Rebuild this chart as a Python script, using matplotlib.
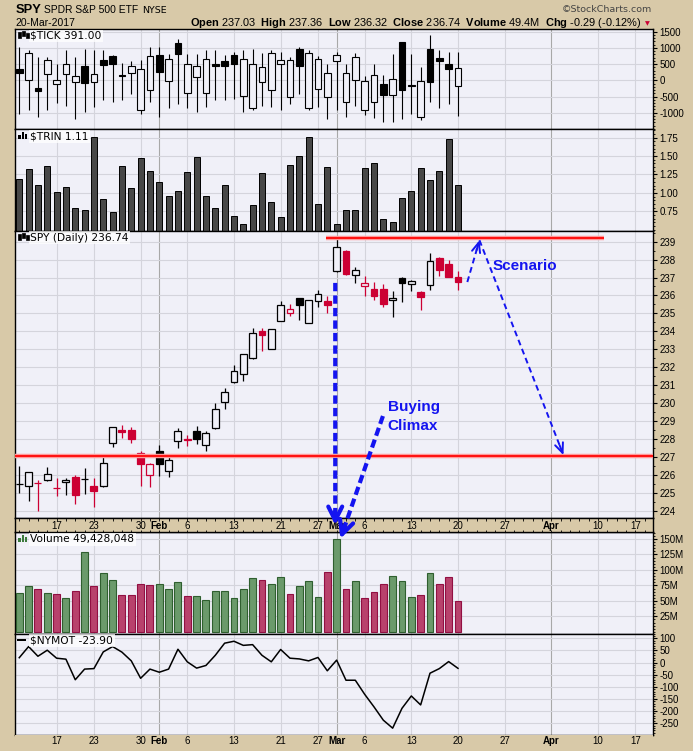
import numpy as np
import pandas as pd
import matplotlib
matplotlib.use('Agg')
import matplotlib.pyplot as plt
from matplotlib.patches import Rectangle, FancyArrowPatch
from matplotlib.transforms import IdentityTransform
from matplotlib.ticker import AutoMinorLocator

plt.rcParams['font.family'] = ['Liberation Sans', 'DejaVu Sans']
plt.rcParams['mathtext.fontset'] = 'custom'
plt.rcParams['mathtext.bf'] = 'Liberation Sans:bold'
plt.rcParams['mathtext.rm'] = 'Liberation Sans'

ANCHO, ALTO = 693, 751
FONDO = '#D8C9A8'
PANEL = '#F0F0F8'
REJILLA = '#D4D4DC'
MES = '#A8A8A8'
ROJO = '#CC0033'
AZUL = '#1414F0'

# Dias de mercado (sin festivos)
festivos = pd.to_datetime(['2017-01-16', '2017-02-20', '2017-04-14'])
fechas = pd.bdate_range('2017-01-10', '2017-04-21')
fechas = fechas[~fechas.isin(festivos)]

# SPY diario
spy_o = [225.51, 225.36, 225.54, 225.73, 225.28, 225.58, 225.86, 225.77, 225.36, 225.39,
         227.77, 228.50, 228.50, 227.22, 226.01, 227.31, 226.23, 227.87, 227.98, 228.42,
         227.64, 228.61, 230.06, 231.16, 231.62, 232.51, 234.00, 233.00, 234.56, 235.04,
         235.88, 234.46, 235.69, 235.69, 237.35, 238.46, 237.12, 236.51, 236.36, 236.36,
         235.73, 236.96, 236.66, 236.19, 236.57, 238.09, 237.75, 237.03]
spy_h = [226.47, 226.14, 225.73, 226.42, 225.82, 225.82, 226.00, 226.38, 225.82, 227.12,
         228.65, 228.76, 228.67, 227.31, 226.66, 227.64, 227.12, 228.61, 228.24, 228.70,
         228.42, 230.00, 230.84, 232.10, 232.75, 234.19, 234.19, 234.11, 235.67, 235.54,
         235.88, 235.76, 236.30, 235.95, 239.20, 238.54, 237.59, 237.07, 236.75, 236.64,
         236.27, 237.03, 236.88, 236.27, 238.37, 238.13, 237.96, 237.36]
spy_l = [224.99, 224.56, 223.96, 225.68, 224.80, 224.89, 224.37, 224.95, 224.22, 225.30,
         227.55, 228.05, 227.77, 225.36, 225.30, 225.91, 225.86, 227.49, 227.59, 227.72,
         227.35, 228.55, 229.69, 231.10, 231.21, 232.46, 232.88, 233.00, 234.56, 234.84,
         234.61, 234.46, 235.34, 235.02, 237.30, 237.16, 236.70, 235.99, 235.77, 235.36,
         234.78, 235.62, 236.23, 235.21, 236.29, 237.07, 237.01, 236.32]
spy_c = [225.51, 226.14, 225.54, 226.06, 225.28, 225.73, 224.89, 225.77, 225.12, 226.64,
         228.65, 228.40, 228.01, 226.62, 226.58, 226.62, 226.81, 228.42, 227.95, 227.98,
         228.33, 229.65, 230.60, 231.81, 232.75, 233.93, 233.78, 234.11, 235.49, 235.26,
         235.45, 235.73, 236.10, 235.49, 238.68, 237.22, 237.40, 236.70, 235.99, 235.54,
         235.86, 236.68, 236.79, 235.90, 237.90, 237.44, 237.01, 236.74]

# $TICK
tick_o = [360, 0, -250, 205, -100, 185, -60, 450, -60, 640, 740, 175, 215, -925, -310, 770,
          -30, 1150, -380, 100, -380, 495, 600, 770, -475, -845, -60, -310, 495, -515, 980, -845,
          -260, -515, 600, -660, 20, -925, -680, -100, -440, 1190, -130, -1130, 980, 700, 495, -165]
tick_h = [1030, 930, 720, 720, 515, 925, 720, 980, 945, 925, 790, 535, 585, 615, 1030, 1030,
          820, 1285, 820, 820, 925, 925, 770, 875, 925, 980, 845, 925, 875, 720, 1030, 925,
          740, 515, 875, 515, 845, 125, 515, 155, 820, 1190, 820, 410, 1390, 925, 875, 875]
tick_l = [-1030, -930, -1130, -930, -690, -800, -1180, -980, -820, -620, -670, -620, -430, -1030, -670, -1130,
          -845, -720, -845, -980, -820, -620, -620, -565, -980, -930, -800, -820, -930, -720, -410, -930,
          -820, -1180, -930, -1130, -800, -1060, -1150, -1285, -1285, -1180, -1030, -1235, -670, -855, -720, -1110]
tick_c = [240, 845, -320, 640, 20, 515, 145, -70, 185, 485, 515, 145, 450, 360, 740, 270,
          670, 820, 515, 450, 670, 450, 450, 515, 670, 515, 420, 845, 640, 640, 450, 845,
          670, 235, 790, 235, 720, -10, 165, -450, 50, -290, -175, -10, -50, 600, 350, 391]

# $TRIN
trin = [1.19, 1.33, 1.11, 1.37, 1.01, 1.08, 0.80, 0.77, 1.76, 0.92, 0.74, 1.37, 1.07, 1.48, 1.30, 1.15,
        0.96, 1.03, 1.29, 1.49, 0.96, 0.80, 1.11, 0.69, 0.58, 0.84, 1.27, 0.88, 0.67, 1.38, 1.50, 1.76,
        0.85, 1.35, 0.58, 0.77, 0.77, 1.34, 1.41, 0.65, 0.61, 0.93, 1.03, 1.34, 1.18, 1.30, 1.73, 1.11]

# Volumen (millones)
volumen = [62.7, 74.0, 70.0, 62.7, 60.6, 54.0, 66.0, 128.4, 74.0, 94.5, 83.0, 59.0, 59.0, 78.0, 75.0, 78.0,
           68.6, 80.5, 57.3, 57.3, 51.4, 66.0, 66.0, 54.0, 70.0, 86.4, 83.0, 76.7, 88.0, 60.6, 73.5, 82.0,
           55.7, 96.7, 149.4, 68.6, 82.0, 54.0, 64.4, 76.7, 89.7, 82.0, 55.7, 59.0, 95.0, 76.7, 88.0, 49.4]

# $NYMOT
nymot = [20, 66, 26, 51, 18, 14, -71, -27, -25, 44, 66, 43, 7, -65, -27, -40,
         -27, 55, 3, -23, -12, 30, 80, 88, 71, 74, 30, 3, 54, 18, 15, 7,
         21, -34, 10, -73, -73, -131, -183, -238, -271, -189, -138, -175, -44, -25, 4, -23.9]

# Niveles y anotaciones (dibujadas sobre el grafico)
nivel_techo = 239.19
techo_desde, techo_hasta = 32.9, 62.6
nivel_soporte = 227.03
clima_vertical = ((33.85, 236.70), (33.85, 223.2))
clima_diagonal = ((38.96, 229.28), (34.41, 150.5))
escenario_sube = ((48.0, 236.75), (49.3, 239.08))
escenario_baja = ((49.3, 239.08), (58.3, 227.1))

XMIN, XMAX = -0.456, 67.89
n = len(spy_c)
x = np.arange(n)


def fx(px):
    return px / ANCHO


def fy(py):
    return 1 - py / ALTO


def caja(y0, y1):
    return [fx(15), fy(y1), fx(653) - fx(15), (y1 - y0) / ALTO]


# marcas de fechas: primer dia de cada semana / mes
marcas = []
for i in range(1, len(fechas)):
    d, p = fechas[i], fechas[i - 1]
    if i > XMAX:
        break
    if d.month != p.month:
        marcas.append((i, d.strftime('%b'), True))
    elif d.weekday() < p.weekday():
        marcas.append((i, str(d.day), False))

fig = plt.figure(figsize=(ANCHO / 100, ALTO / 100), dpi=100, facecolor=FONDO)


def preparar(ax, ylim, yticks, etiquetas, menores=5):
    ax.set_facecolor(PANEL)
    ax.set_xlim(XMIN, XMAX)
    ax.set_ylim(*ylim)
    ax.set_yticks(yticks)
    ax.set_yticklabels(etiquetas)
    ax.yaxis.tick_right()
    ax.yaxis.set_minor_locator(AutoMinorLocator(menores))
    ax.tick_params(axis='y', which='major', length=3, width=0.8, pad=1.5, labelsize=7)
    ax.tick_params(axis='y', which='minor', length=1.5, width=0.6)
    ax.set_xticks([])
    ax.grid(axis='y', color=REJILLA, lw=0.8)
    ax.set_axisbelow(True)
    for xm, _, es_mes in marcas:
        ax.axvline(xm, color=MES if es_mes else REJILLA, lw=0.8, zorder=0.5)
    for s in ax.spines.values():
        s.set_linewidth(1)
        s.set_color('black')


def dibujar_velas(ax, o, h, l, c, colores, ancho=0.74, lw=0.9):
    for i in range(len(o)):
        col = colores[i]
        ax.vlines(i, l[i], h[i], color=col, lw=lw, zorder=3)
        relleno = col if c[i] < o[i] else PANEL
        ax.add_patch(Rectangle((i - ancho / 2, min(o[i], c[i])), ancho, abs(c[i] - o[i]),
                               facecolor=relleno, edgecolor=col, lw=lw, zorder=4))


def etiqueta(ax_top, texto, icono, color_icono='black'):
    base = ax_top + 10
    fig.text(fx(30.5), fy(base), texto, fontsize=7.7, family='DejaVu Sans', va='baseline',
             bbox=dict(facecolor='white', alpha=0.75, edgecolor='none', pad=1.0), zorder=30)
    if icono == 'velas':
        for dx, y0, h in [(18, base - 7, 6), (22, base - 8, 5), (26, base - 6, 5)]:
            fig.add_artist(Rectangle((fx(dx), fy(y0 + h)), 2.5 / ANCHO, h / ALTO,
                                     facecolor='black', edgecolor='black', lw=0.5, zorder=31))
    elif icono == 'barras':
        for dx, h in [(18, 4), (21.5, 7), (25, 5)]:
            fig.add_artist(Rectangle((fx(dx), fy(base)), 2.5 / ANCHO, h / ALTO,
                                     facecolor=color_icono, edgecolor='none', zorder=31))
    else:
        fig.add_artist(Rectangle((fx(17), fy(base - 2.5)), 9 / ANCHO, 2.5 / ALTO,
                                 facecolor='black', edgecolor='none', zorder=31))


# ---- $TICK ----
ax_tick = fig.add_axes(caja(29, 129.3))
preparar(ax_tick, (-1512, 1583), [-1000, -500, 0, 500, 1000, 1500],
         ['-1000', '-500', '0', '500', '1000', '1500'])
dibujar_velas(ax_tick, tick_o, tick_h, tick_l, tick_c, ['black'] * n, ancho=0.72, lw=0.8)
etiqueta(29, '$TICK 391.00', 'velas')

# ---- $TRIN ----
ax_trin = fig.add_axes(caja(129.3, 230.7))
trin_lim = (0.486, 1.864)
preparar(ax_trin, trin_lim, [0.75, 1.00, 1.25, 1.50, 1.75],
         ['0.75', '1.00', '1.25', '1.50', '1.75'])
ax_trin.bar(x, np.array(trin) - trin_lim[0], bottom=trin_lim[0], width=0.66,
            color='#474747', edgecolor='black', lw=0.7, zorder=3)
etiqueta(129.3, '$TRIN 1.11', 'barras')

# ---- SPY ----
ax_spy = fig.add_axes(caja(230.7, 518.3))
preparar(ax_spy, (223.58, 239.61), list(range(224, 240)), [str(v) for v in range(224, 240)], menores=2)
colores_spy = ['black'] + [ROJO if spy_c[i] < spy_c[i - 1] else 'black' for i in range(1, n)]
dibujar_velas(ax_spy, spy_o, spy_h, spy_l, spy_c, colores_spy)
ax_spy.hlines(nivel_techo, techo_desde, techo_hasta, color='#FF9A9A', lw=3.2, zorder=5)
ax_spy.hlines(nivel_techo, techo_desde, techo_hasta, color='#FF1010', lw=1.4, zorder=5)
ax_spy.axhline(nivel_soporte, color='#FF9A9A', lw=3.2, zorder=5)
ax_spy.axhline(nivel_soporte, color='#FF1010', lw=1.4, zorder=5)
etiqueta(230.7, 'SPY (Daily) 236.74', 'velas')

# ---- Volumen ----
ax_vol = fig.add_axes(caja(532.3, 633.5))
preparar(ax_vol, (-2.7, 160.8), [25, 50, 75, 100, 125, 150],
         ['25M', '50M', '75M', '100M', '125M', '150M'])
sube = [True] + [spy_c[i] >= spy_c[i - 1] for i in range(1, n)]
ax_vol.bar(x, volumen, width=0.74, color=['#6B9A6B' if s else '#B8426C' for s in sube],
           edgecolor=['#2F5F2F' if s else '#920F42' for s in sube], lw=0.8, zorder=3)
etiqueta(532.3, 'Volume 49,428,048', 'barras', '#3C7A3C')

# ---- $NYMOT ----
ax_ny = fig.add_axes(caja(633.5, 734.7))
preparar(ax_ny, (-298, 120), list(range(-250, 101, 50)), [str(v) for v in range(-250, 101, 50)])
ax_ny.plot(x, nymot, color='black', lw=1.1, zorder=3)
etiqueta(633.5, '$NYMOT -23.90', 'linea')


# ---- bandas de fechas ----
def banda(y0, y1, borde):
    ax = fig.add_axes(caja(y0, y1))
    ax.set_facecolor(FONDO)
    ax.set_xlim(XMIN, XMAX)
    ax.set_ylim(0, 1)
    ax.set_yticks([])
    ax.set_xticks([])
    for xm, txt, es_mes in marcas:
        ax.text(xm, 0.48, txt, ha='center', va='center', fontsize=7,
                fontweight='bold' if es_mes else 'normal')
    if borde:
        ax.set_xticks(np.arange(0, XMAX), minor=True)
        ax.tick_params(axis='x', which='minor', top=True, bottom=True, direction='in',
                       length=1.8, width=0.6)
        for s in ax.spines.values():
            s.set_linewidth(1)
    else:
        for s in ax.spines.values():
            s.set_visible(False)
    return ax


banda(518.3, 532.3, True)
banda(734.7, 746, False)

# ---- cabecera ----
fig.text(fx(15.5), fy(12.7), 'SPY', fontsize=9.3, fontweight='bold', va='baseline')
fig.text(fx(44), fy(12.7), 'SPDR S&P 500 ETF', fontsize=7.4, va='baseline')
fig.text(fx(141.7), fy(12.7), 'NYSE', fontsize=6.8, family='DejaVu Sans', va='baseline')
fig.text(fx(15.3), fy(25.7), '20-Mar-2017', fontsize=7.5, va='baseline')
fig.text(fx(652.3), fy(12.5), '\u00a9StockCharts.com', fontsize=6.8, family='DejaVu Sans',
         color='#444444', ha='right', va='baseline')
linea = (r'$\mathbf{Open}$ 237.03  $\mathbf{High}$ 237.36  $\mathbf{Low}$ 236.32  '
         r'$\mathbf{Close}$ 236.74  $\mathbf{Volume}$ 49.4M  $\mathbf{Chg}$ -0.29 (-0.12%)')
fig.text(fx(641.7), fy(25.7), linea, fontsize=7.9, ha='right', va='baseline')
fig.text(fx(644.5), fy(25.2), '\u25bc', fontsize=4.5, family='DejaVu Sans', color=ROJO, va='baseline')


# ---- flechas azules ----
def flecha(pA, pB, lw, patron, hl, hw):
    pA, pB = np.asarray(pA, float), np.asarray(pB, float)
    u = (pB - pA) / np.hypot(*(pB - pA))
    pC = pB - u * hl * 1.2
    fig.add_artist(FancyArrowPatch(pA, pC, transform=IdentityTransform(), arrowstyle='-',
                                   lw=lw, linestyle=(0, patron), color=AZUL, shrinkA=0,
                                   shrinkB=0, capstyle='butt', zorder=40))
    fig.add_artist(FancyArrowPatch(pC - u * 2, pB, transform=IdentityTransform(),
                                   arrowstyle=f'->,head_length={hl},head_width={hw}',
                                   lw=lw, color=AZUL, shrinkA=0, shrinkB=0,
                                   mutation_scale=1, zorder=40))


def pantalla(ax, p):
    return ax.transData.transform(p)


flecha(pantalla(ax_spy, clima_vertical[0]), pantalla(ax_spy, clima_vertical[1]), 3.0, (2.0, 1.0), 10, 5)
flecha(pantalla(ax_spy, clima_diagonal[0]), pantalla(ax_vol, clima_diagonal[1]), 3.0, (2.0, 1.0), 10, 5)
flecha(pantalla(ax_spy, escenario_sube[0]), pantalla(ax_spy, escenario_sube[1]), 1.4, (3.0, 2.0), 7, 3)
flecha(pantalla(ax_spy, escenario_baja[0]), pantalla(ax_spy, escenario_baja[1]), 1.4, (3.0, 2.0), 7, 3)

fig.text(fx(493), fy(269.7), 'Scenario', fontsize=11, fontweight='bold', color=AZUL, va='baseline', zorder=41)
fig.text(fx(387.7), fy(411.3), 'Buying', fontsize=11, fontweight='bold', color=AZUL, va='baseline', zorder=41)
fig.text(fx(387.7), fy(429.7), 'Climax', fontsize=11, fontweight='bold', color=AZUL, va='baseline', zorder=41)

fig.savefig('out.png', dpi=100, facecolor=FONDO)
